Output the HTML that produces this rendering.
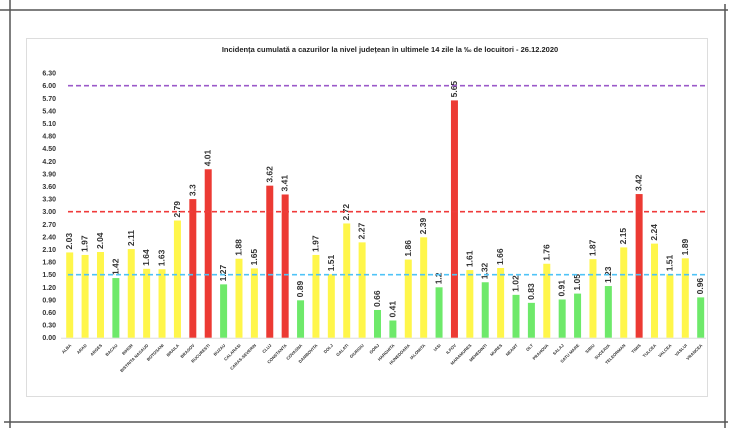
<!DOCTYPE html>
<html><head><meta charset="utf-8"><style>
body{margin:0;background:#fff;}
svg{display:block;font-family:"Liberation Sans",Arial,sans-serif;}
</style></head><body>
<svg id="c" width="735" height="432">
<line x1="10" y1="0" x2="10" y2="428" stroke="#555" stroke-width="1.5"/>
<line x1="0" y1="10" x2="728" y2="10" stroke="#555" stroke-width="1.5"/>
<line x1="725" y1="4" x2="725" y2="428" stroke="#555" stroke-width="1.5"/>
<line x1="4" y1="422" x2="728" y2="422" stroke="#555" stroke-width="1.5"/>
<rect x="26.5" y="38.5" width="681" height="358" fill="#fff" stroke="#ddd"/>
<text x="390" y="52" text-anchor="middle" font-size="7.5" font-weight="bold" fill="#222">Incidența cumulată a cazurilor la nivel județean în ultimele 14 zile    la ‰ de locuitori  - 26.12.2020</text>
<g id="g"></g>
</svg>
<script>
const categories=["ALBA","ARAD","ARGES","BACAU","BIHOR","BISTRITA NASAUD","BOTOSANI","BRAILA","BRASOV","BUCURESTI","BUZAU","CALARASI","CARAS-SEVERIN","CLUJ","CONSTANTA","COVASNA","DAMBOVITA","DOLJ","GALATI","GIURGIU","GORJ","HARGHITA","HUNEDOARA","IALOMITA","IASI","ILFOV","MARAMURES","MEHEDINTI","MURES","NEAMT","OLT","PRAHOVA","SALAJ","SATU MARE","SIBIU","SUCEAVA","TELEORMAN","TIMIS","TULCEA","VALCEA","VASLUI","VRANCEA"];
const values=[2.03,1.97,2.04,1.42,2.11,1.64,1.63,2.79,3.3,4.01,1.27,1.88,1.65,3.62,3.41,0.89,1.97,1.51,2.72,2.27,0.66,0.41,1.86,2.39,1.2,5.65,1.61,1.32,1.66,1.02,0.83,1.76,0.91,1.05,1.87,1.23,2.15,3.42,2.24,1.51,1.89,0.96];
const yTicks=[0,0.3,0.6,0.9,1.2,1.5,1.8,2.1,2.4,2.7,3.0,3.3,3.6,3.9,4.2,4.5,4.8,5.1,5.4,5.7,6.0,6.3];
const thresholds=[1.5,3.0,6.0];
const NS="http://www.w3.org/2000/svg";
const g=document.getElementById('g');
const y0=337.7,k=42;
const y=v=>y0-v*k;
const x=i=>69.7+i*15.39;
function mk(t,a){const e=document.createElementNS(NS,t);for(const p in a)e.setAttribute(p,a[p]);g.appendChild(e);return e;}
yTicks.forEach(v=>{const t=mk('text',{x:56,y:y(v)+2.5,'text-anchor':'end','font-size':'7','font-weight':'bold',fill:'#333'});t.textContent=v.toFixed(2);

});
const ax=mk('line',{x1:61,x2:706,y1:y0+0.5,y2:y0+0.5,stroke:'#ddd'});


categories.forEach((c,i)=>{const v=values[i];const col=v<1.5?'#6ee96a':(v<=3?'#fff64a':'#ec3a33');
const r=mk('rect',{x:x(i)-3.5,y:y(v),width:7,height:v*k,fill:col});


const t=mk('text',{transform:`translate(${x(i)+2.5},${y(v)-3}) rotate(-90)`,'font-size':'8.5','font-weight':'bold',fill:'#333'});t.textContent=String(v);


const l=mk('text',{transform:`translate(${x(i)+2},${y0+8}) rotate(-45)`,'text-anchor':'end','font-size':'4.2','font-weight':'bold',fill:'#333'});l.textContent=c;

});
const tc=['#4fc3f7','#ef3b3b','#9b59c9'];
thresholds.forEach((v,j)=>{const l=mk('line',{x1:68,x2:705,y1:y(v),y2:y(v),stroke:tc[j],'stroke-width':1.6,'stroke-dasharray':'5,3'});

});
</script>
</body></html>
